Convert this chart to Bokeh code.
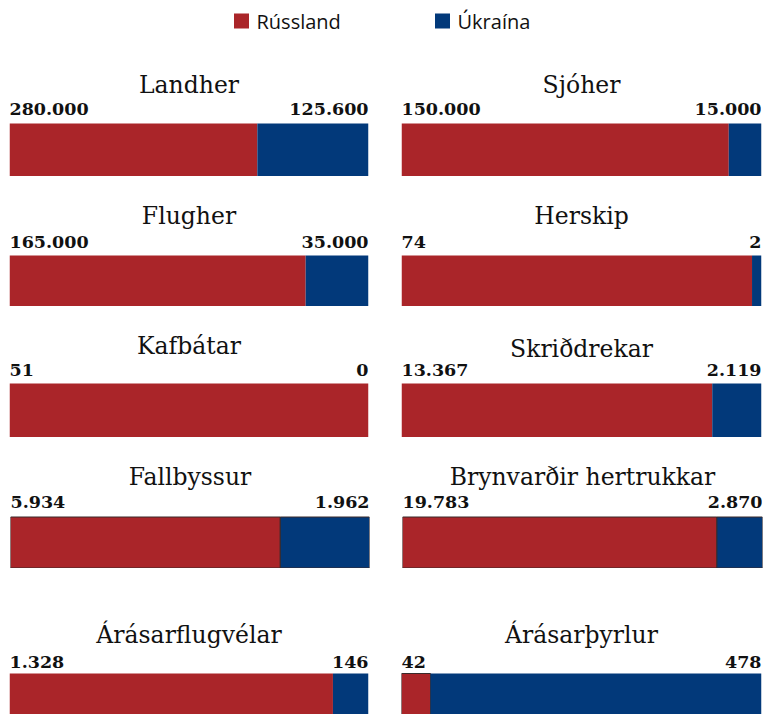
from bokeh.plotting import figure
from bokeh.models import Range1d, ColumnDataSource
from bokeh.layouts import column, row
from bokeh.core.properties import value
from bokeh.embed import file_html
from bokeh.resources import INLINE

# ---- data ----
series = ["Rússland", "Úkraína"]
categories = ["Landher", "Sjóher", "Flugher", "Herskip", "Kafbátar",
              "Skriðdrekar", "Fallbyssur", "Brynvarðir hertrukkar",
              "Árásarflugvélar", "Árásarþyrlur"]
russia = [280000, 150000, 165000, 74, 51, 13367, 5934, 19783, 1328, 42]
ukraine = [125600, 15000, 35000, 2, 0, 2119, 1962, 2870, 146, 478]

RED = "#AA2529"
BLUE = "#02397A"
BORDER = "#3a2a2a"
SERIF = "DejaVu Serif"
SANS = "Open Sans"

# row layout: (height, bar_top, bar_bottom, title_baseline, value_baseline, bordered)
ROWS = [
    (128, 75, 128, 43.5, 66.5, False),
    (130, 79, 130, 46, 71, False),
    (131, 77, 131, 46, 69, False),
    (131, 79.5, 130.5, 46, 70, True),
    (146, 105, 146, 73, 99, False),
]
TITLE_SHIFT = {"Skriðdrekar": 3}
TITLE_ADJ = -7
VALUE_ADJ = -6


def fmt(v):
    return format(v, ",").replace(",", ".")


def base_fig(w, h, xr, yr, bl, br):
    p = figure(width=w, height=h, x_range=xr, y_range=yr,
               x_axis_type=None, y_axis_type=None,
               output_backend="svg", toolbar_location=None,
               min_border_left=bl, min_border_right=br,
               min_border_top=0, min_border_bottom=0)
    p.grid.visible = False
    p.outline_line_color = None
    p.background_fill_color = None
    p.border_fill_color = "white"
    return p


def panel(i, col):
    r_idx = i // 2
    h, bt, bb, tb, vb, bordered = ROWS[r_idx]
    name = categories[i]
    ru, ua = russia[i], ukraine[i]
    total = ru + ua
    if col == 0:
        w, bl, br = 376, 1, 16
    else:
        w, bl, br = 381, 17, 4
    if bordered:
        # leave one pixel on each side so the outline stays visible
        bl += 1
        br -= 1
    p = base_fig(w, h, Range1d(0, total), Range1d(h, 0), bl, br)
    red_border = bordered or (r_idx == 4 and col == 1)
    src = ColumnDataSource(dict(
        left=[0, ru], right=[ru, total], color=[RED, BLUE],
        line=[BORDER if red_border else None, BORDER if bordered else None]))
    p.hbar(y=(bt + bb) / 2, height=bb - bt, left="left", right="right",
           fill_color="color", line_color="line", line_width=1, source=src)
    p.text(x=[total / 2], y=[tb + TITLE_ADJ + TITLE_SHIFT.get(name, 0)], text=[name],
           text_font=value(SERIF), text_font_size="23.5px",
           text_align="center", text_baseline="alphabetic", text_color="#111111")
    p.text(x=[0], y=[vb + VALUE_ADJ], text=[fmt(ru)], text_font=value(SERIF),
           text_font_style="bold", text_font_size="17.5px",
           text_align="left", text_baseline="alphabetic", text_color="#111111")
    p.text(x=[total], y=[vb + VALUE_ADJ], text=[fmt(ua)], text_font=value(SERIF),
           text_font_style="bold", text_font_size="17.5px",
           text_align="right", text_baseline="alphabetic", text_color="#111111")
    return p


# legend strip
leg = base_fig(757, 40, Range1d(0, 757), Range1d(40, 0), 0, 0)
leg.scatter(x=[233, 434], y=[12.5, 12.5], marker="square", size=15,
            color=[RED, BLUE], line_color=None)
leg.text(x=[248, 449], y=[13, 13], text=series, text_font=value(SANS),
         text_font_size="20px", text_baseline="alphabetic", text_align="left",
         text_color="#111111")

rows = [leg]
for r in range(5):
    rows.append(row(panel(2 * r, 0), panel(2 * r + 1, 1), spacing=0))

layout = column(*rows, spacing=0, margin=(8, 8, 8, 8))

open("out.html", "w").write(file_html(layout, INLINE))
